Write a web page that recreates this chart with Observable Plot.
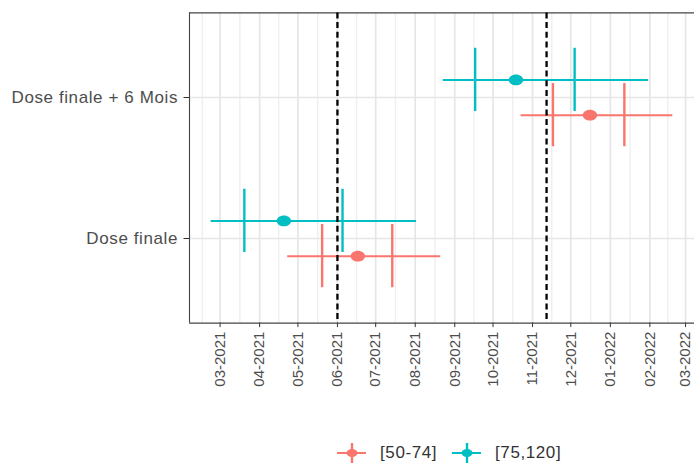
<!DOCTYPE html>
<html>
<head>
<meta charset="utf-8">
<script src="https://cdn.jsdelivr.net/npm/d3@7"></script>
<script src="https://cdn.jsdelivr.net/npm/@observablehq/plot@0.6"></script>
<style>
  html, body { margin: 0; padding: 0; background: #fff; }
  #wrap { position: relative; width: 694px; height: 463px; overflow: hidden; }
  #chart svg text { fill: #4d4d4d; }
  .ylab text { letter-spacing: 0.6px; }
  #legend { position: absolute; left: 0; top: 441px; width: 694px; height: 24px; font-family: "Liberation Sans", Arial, sans-serif; }
  .item { position: absolute; top: 0; height: 24px; display: flex; align-items: center; }
  .item span { font-size: 17px; letter-spacing: 0.6px; color: #333; margin-left: 14px; }
</style>
</head>
<body>
<div id="wrap">
  <div id="chart"></div>
  <div id="legend"></div>
</div>
<script>
// ---- data ----
const timepoints = ["Dose finale", "Dose finale + 6 Mois"];
const groups = ["[50-74]", "[75,120]"];
const colors = ["#F8766D", "#00BFC4"];
// [group][timepoint]
const lowDates    = [["2021-04-23", "2021-10-23"], ["2021-02-22", "2021-08-23"]];
const q1Dates     = [["2021-05-20", "2021-11-17"], ["2021-03-20", "2021-09-17"]];
const medianDates = [["2021-06-17", "2021-12-16"], ["2021-04-20", "2021-10-19"]];
const q3Dates     = [["2021-07-14", "2022-01-12"], ["2021-06-05", "2021-12-04"]];
const highDates   = [["2021-08-21", "2022-02-19"], ["2021-08-02", "2022-01-31"]];
const refDates = ["2021-06-01", "2021-11-12"];
const monthBreaks = ["2021-02-01","2021-03-01","2021-04-01","2021-05-01","2021-06-01","2021-07-01",
  "2021-08-01","2021-09-01","2021-10-01","2021-11-01","2021-12-01","2022-01-01","2022-02-01","2022-03-01","2022-04-01"];
const xDomain = ["2021-02-05", "2022-03-08"];

// ---- build table ----
const D = s => new Date(s + "T00:00:00Z");
const dodge = [-0.125, 0.125];
const rows = [];
groups.forEach((g, gi) => timepoints.forEach((t, ti) => {
  rows.push({
    group: g, timepoint: t, pos: ti + 1 + dodge[gi],
    lo: D(lowDates[gi][ti]), q1: D(q1Dates[gi][ti]), med: D(medianDates[gi][ti]),
    q3: D(q3Dates[gi][ti]), hi: D(highDates[gi][ti])
  });
}));
const dom = xDomain.map(D);
const months = monthBreaks.map(D);
const majors = months.filter(d => d >= dom[0] && d <= dom[1]);
const minors = d3.pairs(months).map(([a, b]) => new Date((+a + +b) / 2)).filter(d => d >= dom[0] && d <= dom[1]);
const halfTick = 0.224;

function ellipse(rx, ry) {
  const k = 0.5523;
  return { draw(c) {
    c.moveTo(rx, 0);
    c.bezierCurveTo(rx, k * ry, k * rx, ry, 0, ry);
    c.bezierCurveTo(-k * rx, ry, -rx, k * ry, -rx, 0);
    c.bezierCurveTo(-rx, -k * ry, -k * rx, -ry, 0, -ry);
    c.bezierCurveTo(k * rx, -ry, rx, -k * ry, rx, 0);
    c.closePath();
  }};
}

const chart = Plot.plot({
  width: 694, height: 400,
  marginLeft: 189, marginRight: 0, marginTop: 12.4, marginBottom: 77.4,
  style: { fontFamily: "'Liberation Sans', Arial, sans-serif", background: "white", color: "#333" },
  x: { type: "utc", domain: dom },
  y: { domain: [0.4, 2.6] },
  color: { domain: groups, range: colors },
  marks: [
    Plot.ruleX(minors, { stroke: "#efefef", strokeWidth: 1.4 }),
    Plot.ruleX(majors, { stroke: "#e6e6e6", strokeWidth: 1.7 }),
    Plot.ruleY([1, 2], { stroke: "#e6e6e6", strokeWidth: 1.4 }),
    Plot.ruleY([0.4, 2.6], { stroke: "#444", strokeWidth: 1.1 }),
    Plot.ruleX([dom[0]], { stroke: "#444", strokeWidth: 1.1 }),
    Plot.ruleY(rows, { x1: "lo", x2: "hi", y: "pos", stroke: "group", strokeWidth: 2 }),
    Plot.ruleX(rows, { x: "q1", y1: d => d.pos - halfTick, y2: d => d.pos + halfTick, stroke: "group", strokeWidth: 2.4 }),
    Plot.ruleX(rows, { x: "q3", y1: d => d.pos - halfTick, y2: d => d.pos + halfTick, stroke: "group", strokeWidth: 2.4 }),
    Plot.dot(rows, { x: "med", y: "pos", fill: "group", symbol: ellipse(7.2, 5.4), r: 6 }),
    Plot.ruleX(refDates.map(D), { stroke: "#000", strokeWidth: 2.3, strokeDasharray: "6,3.7" }),
    Plot.axisX({ ticks: majors, tickFormat: d3.utcFormat("%m-%Y"), tickRotate: -90, tickSize: 4.5,
      tickPadding: 4, fontSize: 15, label: null, anchor: "bottom" }),
    Plot.axisY({ ticks: [1, 2], tickFormat: d => timepoints[d - 1], tickSize: 5.5, tickPadding: 6,
      fontSize: 17, label: null, anchor: "left", className: "ylab" })
  ]
});
document.getElementById("chart").appendChild(chart);

// ---- legend ----
const legend = document.getElementById("legend");
const lefts = [337, 452];
groups.forEach((g, i) => {
  const item = document.createElement("div");
  item.className = "item";
  item.style.left = lefts[i] + "px";
  const svg = d3.create("svg").attr("width", 29).attr("height", 24);
  svg.append("line").attr("x1", 0).attr("x2", 29).attr("y1", 12).attr("y2", 12).attr("stroke", colors[i]).attr("stroke-width", 2);
  svg.append("line").attr("x1", 15).attr("x2", 15).attr("y1", 2).attr("y2", 24).attr("stroke", colors[i]).attr("stroke-width", 2.4);
  svg.append("ellipse").attr("cx", 15).attr("cy", 12).attr("rx", 5.5).attr("ry", 4).attr("fill", colors[i]);
  item.appendChild(svg.node());
  const span = document.createElement("span");
  span.textContent = g;
  item.appendChild(span);
  legend.appendChild(item);
});
</script>
</body>
</html>
